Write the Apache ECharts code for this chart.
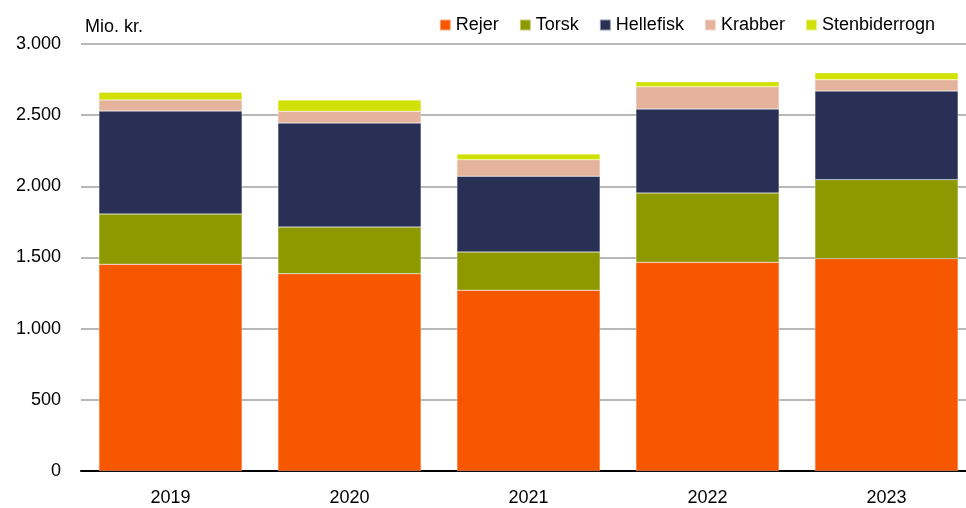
<!DOCTYPE html>
<html>
<head>
<meta charset="utf-8">
<script src="https://cdn.jsdelivr.net/npm/echarts@6/dist/echarts.min.js"></script>
<style>
html,body{margin:0;padding:0;background:#fff}
#chart{width:966px;height:508px}
</style>
</head>
<body>
<div id="chart"></div>
<script>
var years = ['2019','2020','2021','2022','2023']
var rejer = [1452,1386,1270,1466,1492]
var torsk = [354,328,269,487,555]
var hellefisk = [723,731,532,590,623]
var krabber = [78,82,116,157,79]
var stenbiderrogn = [54,80,40,35,49]
var yTicks = [0,500,1000,1500,2000,2500,3000]

var font = 'Liberation Sans'
function fmt(v){   // tusindtalsseparator med punktum
	return String(v).replace(/\B(?=(\d{3})+(?!\d))/g,'.')
}
function bar(name,data,color){
	return {
		name:name,
		type:'bar',
		stack:'total',
		barCategoryGap:'20%',
		data:data,
		itemStyle:{color:color,borderColor:'rgba(255,255,255,0.5)',borderWidth:0.5},
		emphasis:{disabled:true}
	}
}
var myChart = echarts.init(document.getElementById('chart'))
myChart.setOption({
	animation:false,
	textStyle:{fontFamily:font},
	title:{
		text:'Mio. kr.',
		left:80,top:13,
		textStyle:{fontSize:18,fontWeight:'normal',color:'#000',fontFamily:font}
	},
	legend:{
		right:26,top:11,
		itemWidth:11,itemHeight:11,itemGap:20,
		icon:'rect',
		textStyle:{fontSize:18,color:'#000',fontFamily:font},
		data:['Rejer','Torsk','Hellefisk','Krabber','Stenbiderrogn']
	},
	grid:{left:81,top:44,width:895,bottom:37,containLabel:false,outerBoundsMode:'none'},
	xAxis:{
		type:'category',
		data:years,
		axisTick:{show:false},
		axisLine:{lineStyle:{color:'#000',width:2}},
		axisLabel:{fontSize:18,color:'#000',margin:18,fontFamily:font}
	},
	yAxis:{
		type:'value',
		min:yTicks[0],max:yTicks[yTicks.length-1],interval:500,
		axisLine:{show:false},
		axisTick:{show:false},
		splitLine:{lineStyle:{color:'#a0a0a0',width:1.5}},
		axisLabel:{fontSize:18,color:'#000',margin:20,fontFamily:font,formatter:fmt}
	},
	series:[
		bar('Rejer',rejer,'#F85701'),
		bar('Torsk',torsk,'#8E9900'),
		bar('Hellefisk',hellefisk,'#293056'),
		bar('Krabber',krabber,'#E5B39B'),
		bar('Stenbiderrogn',stenbiderrogn,'#D2E105')
	]
})
</script>
</body>
</html>
